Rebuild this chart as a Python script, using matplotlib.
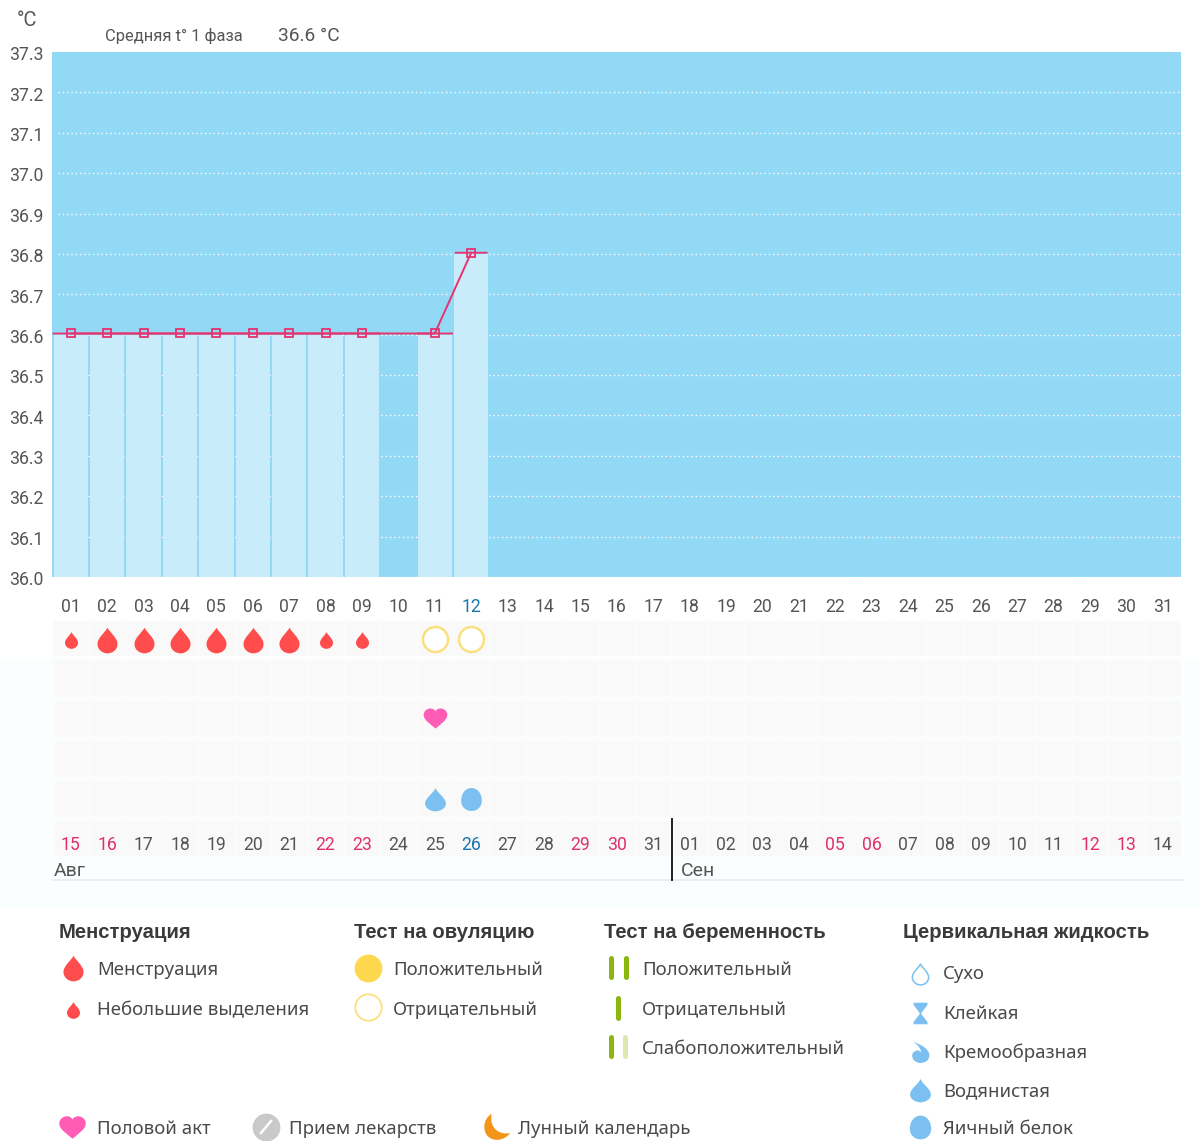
import matplotlib
matplotlib.use("Agg")
import matplotlib.pyplot as plt
from matplotlib.path import Path
from matplotlib.patches import Rectangle
from matplotlib.transforms import ScaledTranslation

plt.rcParams['font.family'] = ['Roboto', 'DejaVu Sans']

# ---------- data ----------
cycle_days = ["01","02","03","04","05","06","07","08","09","10","11","12","13","14","15","16",
              "17","18","19","20","21","22","23","24","25","26","27","28","29","30","31"]
calendar_days = ["15","16","17","18","19","20","21","22","23","24","25","26","27","28","29","30","31",
                 "01","02","03","04","05","06","07","08","09","10","11","12","13","14"]
temp_ticks = [36.0,36.1,36.2,36.3,36.4,36.5,36.6,36.7,36.8,36.9,37.0,37.1,37.2,37.3]
temp_days = [0,1,2,3,4,5,6,7,8,10,11]
temp_values = [36.6,36.6,36.6,36.6,36.6,36.6,36.6,36.6,36.6,36.6,36.8]
heavy_days = [1,2,3,4,5,6]
spotting_days = [0,7,8]
ovulation_negative_days = [10,11]
intercourse_days = [10]
watery_days = [10]
eggwhite_days = [11]
red_calendar_idx = [0,1,7,8,14,15,21,22,28,29]
blue_calendar_idx = [11]
blue_cycle_idx = [11]
month_labels = ["Авг","Сен"]

BG = "#92d9f6"; BAR = "#c8ecfa"; PINK = "#e8326e"; GREY = "#555555"
RED = "#ff4d4d"; BLUE = "#7cc0f2"; HEART = "#ff5cb5"; RING = "#fbe07e"
YEL = "#fdd84f"; GREEN = "#8db510"; LGREEN = "#dbe8b0"; CELL = "#f9f9f9"
REDTXT = "#e0306a"; BLUETXT = "#1a75b0"; ORANGE = "#f39519"

# ---------- marker shapes ----------
C = Path.CURVE4; M = Path.MOVETO; L = Path.LINETO; Z = Path.CLOSEPOLY
def P(v, c): return Path(v, c)
drop = P([(0,1),(.18,.62),(.78,.22),(.78,-.28),(.78,-.7),(.42,-1),(0,-1),(-.42,-1),(-.78,-.7),(-.78,-.28),(-.78,.22),(-.18,.62),(0,1),(0,1)],
         [M,C,C,C,C,C,C,C,C,C,C,C,C,Z])
water = P([(0,1),(.1,.55),(.88,.2),(.88,-.35),(.88,-.75),(.42,-1),(0,-1),(-.42,-1),(-.88,-.75),(-.88,-.35),(-.88,.2),(-.1,.55),(0,1),(0,1)],
          [M,C,C,C,C,C,C,C,C,C,C,C,C,Z])
egg = P([(0,1),(.55,1),(.9,.5),(.9,-.1),(.9,-.65),(.5,-1),(0,-1),(-.5,-1),(-.9,-.65),(-.9,-.1),(-.9,.5),(-.55,1),(0,1),(0,1)],
        [M,C,C,C,C,C,C,C,C,C,C,C,C,Z])
heart = P([(0,-.85),(-.4,-.5),(-1,-.15),(-1,.3),(-1,.7),(-.65,.85),(-.42,.85),(-.2,.85),(-.05,.72),(0,.6),
           (.05,.72),(.2,.85),(.42,.85),(.65,.85),(1,.7),(1,.3),(1,-.15),(.4,-.5),(0,-.85),(0,-.85)],
          [M,C,C,C,C,C,C,C,C,C,C,C,C,C,C,C,C,C,C,Z])
hourglass = P([(-.65,1),(.65,1),(.65,.8),(.08,.05),(.08,-.05),(.65,-.8),(.65,-1),(-.65,-1),(-.65,-.8),(-.08,-.05),(-.08,.05),(-.65,.8),(-.65,1)],
              [M]+[L]*11+[Z])
cream = P([(-.7,1),(-.1,.85),(.85,.4),(.85,-.3),(.85,-.75),(.45,-1),(0,-1),(-.45,-1),(-.8,-.7),(-.8,-.3),(-.8,-.05),(-.6,.15),(-.3,.2),(-.1,.2),(0,.1),(.05,0),(.1,.3),(-.25,.75),(-.7,1),(-.7,1)],
          [M,C,C,C,C,C,C,C,C,C,C,C,C,C,C,C,C,C,C,Z])
moon = P([(-.35,1),(-.95,.6),(-1,-.1),(-.7,-.55),(-.35,-1),(.45,-1.05),(1,-.4),(.3,-.55),(-.55,-.15),(-.35,1),(-.35,1)],
         [M,C,C,C,C,C,C,C,C,C,Z])

W, H = 1200, 1141
fig = plt.figure(figsize=(W/100, H/100), dpi=100, facecolor="white")
def axes_px(x0, y0, x1, y1):
    return fig.add_axes([x0/W, 1-y1/H, (x1-x0)/W, (y1-y0)/H])

XLIM = (-0.515, 30.5)

# ---------- page background ----------
bg = axes_px(0, 0, W, H); bg.set_xlim(0, W); bg.set_ylim(H, 0); bg.axis("off"); bg.set_zorder(-1)
bg.add_patch(Rectangle((0, 658), W, 250, fc="#fafeff", ec="none"))

# ---------- temperature chart ----------
ax = axes_px(52, 52, 1181, 577); ax.set_zorder(2)
ax.set_xlim(*XLIM); ax.set_ylim(36.0, 37.3); ax.set_facecolor(BG)
for s in ax.spines.values(): s.set_visible(False)
for t in temp_ticks[:-1]:
    ax.plot([-0.36, 30.5], [t, t], color="white", lw=1.0, ls=(0, (1, 2.1)), zorder=1)
ax.bar(temp_days, [v-36.0 for v in temp_values], bottom=36.0, width=0.945, color=BAR, zorder=2)
lift = ax.transData + ScaledTranslation(0, 1.2/100, fig.dpi_scale_trans)
hl1 = ax.hlines(temp_values[:-1], [d-0.5 for d in temp_days[:-1]], [d+0.5 for d in temp_days[:-1]], color=PINK, lw=1.3, zorder=3, transform=lift)
hl2 = ax.hlines(temp_values[-1:], [temp_days[-1]-0.45], [temp_days[-1]+0.45], color=PINK, lw=1.3, zorder=3, transform=lift)
hl1.set_snap(False); hl2.set_snap(False)
ax.plot(temp_days, temp_values, color=PINK, lw=1.4, marker="s", ms=5.8, mfc="none", mec=PINK, mew=1.3, zorder=4, transform=lift, snap=False)
ax.set_yticks(temp_ticks); ax.set_yticklabels([f"{t:.1f}" for t in temp_ticks], fontsize=12.7, color=GREY)
ax.set_xticks(range(len(cycle_days))); ax.set_xticklabels(cycle_days, fontsize=12.7, color=GREY)
ax.tick_params(axis="both", length=0)
ax.tick_params(axis="x", pad=15); ax.tick_params(axis="y", pad=6)
off = ScaledTranslation(0, -1.2/100, fig.dpi_scale_trans)
for lb in ax.get_yticklabels(): lb.set_transform(lb.get_transform() + off)
for i in blue_cycle_idx: ax.get_xticklabels()[i].set_color(BLUETXT)

# ---------- event rows ----------
pan = axes_px(52, 618, 1181, 858); pan.set_zorder(2)
pan.set_xlim(*XLIM); pan.set_ylim(5.5, -0.5); pan.patch.set_alpha(0); pan.axis("off")
for r in range(6):
    pan.bar(range(len(cycle_days)), [0.92]*len(cycle_days), bottom=r-0.46, width=1.0, color=CELL, edgecolor="white", lw=0.5, zorder=1)
def mk(days, row, path, size, color, **kw):
    pan.plot(days, [row]*len(days), ls="none", marker=path, ms=size, mfc=color, mec="none", zorder=3, **kw)
mk(heavy_days, 0.05, drop, 18.5, RED)
mk(spotting_days, 0.05, drop, 12, RED)
pan.plot(ovulation_negative_days, [0.03, 0.03], ls="none", marker="o", ms=18, mfc="white", mec=RING, mew=1.8, zorder=3)
mk(intercourse_days, 2.0, heart, 17, HEART)
mk(watery_days, 4.02, water, 17, BLUE)
mk(eggwhite_days, 4.02, egg, 16.5, BLUE)
for i, s in enumerate(calendar_days):
    c = REDTXT if i in red_calendar_idx else BLUETXT if i in blue_calendar_idx else GREY
    pan.text(i, 5.17, s, fontsize=12.7, color=c, ha="center", va="center", zorder=4)

# ---------- top layer: titles, months, legend ----------
base = axes_px(0, 0, W, H); base.set_xlim(0, W); base.set_ylim(H, 0); base.axis("off"); base.set_zorder(3); base.patch.set_alpha(0)
base.text(27.5, 21, "°C", fontsize=14.5, color=GREY, ha="center", va="center")
base.text(105, 36, "Средняя t° 1 фаза", fontsize=11.9, color=GREY, va="center")
base.text(278, 36, "36.6 °C", fontsize=13.9, color=GREY, va="center")
base.text(54, 871, month_labels[0], fontsize=14, color=GREY, va="center")
base.text(681, 871, month_labels[1], fontsize=14, color=GREY, va="center")
base.plot([52, 1182], [879.5, 879.5], color="#e6eef0", lw=1.2)
base.plot([672, 672], [819, 880], color="#222222", lw=1.4)

LF = ['Noto Sans', 'DejaVu Sans']
TF = ['Liberation Sans', 'DejaVu Sans']
def title(x, y, s): base.text(x, y, s, fontsize=14.6, fontweight="bold", color="#3a3a3a", va="center", family=TF)
def item(x, y, s): base.text(x, y, s, fontsize=13.4, color="#4a4a4a", va="center", family=LF)
def sw(x, y, path, size, color, **kw):
    d = dict(ls="none", marker=path, ms=size, mfc=color, mec="none"); d.update(kw)
    base.plot([x], [y], **d)

title(59, 932, "Менструация"); title(354, 932, "Тест на овуляцию")
title(604, 932, "Тест на беременность"); title(903, 932, "Цервикальная жидкость")

sw(73, 968, drop, 18.5, RED); item(97, 970, "Менструация")
sw(73, 1010, drop, 12, RED); item(97, 1010, "Небольшие выделения")

sw(368, 968, "o", 20, YEL); item(393, 970, "Положительный")
sw(368, 1007, "o", 19, "white", mec=RING, mew=1.3); item(393, 1010, "Отрицательный")

def stick(x, y0, y1, c): base.plot([x, x], [y0, y1], color=c, lw=3.6, solid_capstyle="round")
stick(611, 958, 977, GREEN); stick(626, 958, 977, GREEN); item(642, 970, "Положительный")
stick(618, 998, 1018, GREEN); item(642, 1010, "Отрицательный")
stick(611, 1037, 1056, GREEN); stick(625, 1037, 1056, LGREEN); item(642, 1049, "Слабоположительный")

sw(919.5, 974, drop, 15, "white", mec=BLUE, mew=1.1); item(943, 974, "Сухо")
sw(919.5, 1013, hourglass, 15.5, BLUE); item(943, 1014, "Клейкая")
sw(919.5, 1052, cream, 15, BLUE); item(943, 1053, "Кремообразная")
sw(919.5, 1090, water, 17, BLUE); item(943, 1091, "Водянистая")
sw(919.5, 1127, egg, 17, BLUE); item(943, 1129, "Яичный белок")

sw(71.5, 1127, heart, 19, HEART); item(97, 1129, "Половой акт")
sw(266, 1127, "o", 20, "#c9c9c9")
base.plot([261, 271], [1133, 1121], color="white", lw=1.8)
item(289, 1129, "Прием лекарств")
sw(496, 1127, moon, 21, ORANGE); item(518, 1129, "Лунный календарь")

fig.savefig("out.png", dpi=100)
